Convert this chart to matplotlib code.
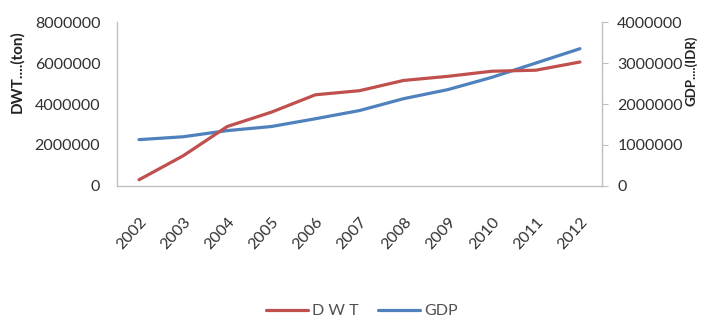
import matplotlib as mpl
mpl.use('Agg')
import matplotlib.pyplot as plt
import numpy as np

years = ['2002', '2003', '2004', '2005', '2006', '2007', '2008', '2009', '2010', '2011', '2012']
dwt = [300000, 1470000, 2900000, 3600000, 4450000, 4650000, 5150000, 5350000, 5600000, 5650000, 6050000]
gdp = [1130000, 1200000, 1350000, 1450000, 1640000, 1840000, 2130000, 2350000, 2650000, 3000000, 3350000]

plt.rcParams['font.family'] = ['Lato', 'DejaVu Sans']
txtc = '#303030'
axc = '#bfbfbf'

fig = plt.figure(figsize=(7.03, 3.2), dpi=100)
ax1 = fig.add_axes([0.1664, 0.419, 0.6899, 0.512])
ax2 = ax1.twinx()

x = np.arange(len(years))
l1, = ax1.plot(x, dwt, color='#C0504D', lw=2.3, solid_capstyle='round', label='D W T')
l2, = ax2.plot(x, gdp, color='#4F81BD', lw=2.3, solid_capstyle='round', label='GDP')
ax1.set_zorder(ax2.get_zorder() + 1)
ax1.patch.set_visible(False)

ax1.set_xlim(-0.5, len(years) - 0.5)
ax1.set_ylim(0, 8000000)
ax2.set_ylim(0, 4000000)
ax1.set_yticks(np.arange(0, 8000001, 2000000))
ax2.set_yticks(np.arange(0, 4000001, 1000000))
ax1.set_yticklabels([str(v) for v in np.arange(0, 8000001, 2000000)])
ax2.set_yticklabels([str(v) for v in np.arange(0, 4000001, 1000000)])
ax1.set_xticks(x)
ax1.set_xticklabels(years, rotation=48, ha='right', rotation_mode='anchor')

for a in (ax1, ax2):
    a.spines['top'].set_visible(False)
    for s in ('left', 'right', 'bottom'):
        a.spines[s].set_color(axc)
        a.spines[s].set_linewidth(1.0)
    a.tick_params(labelsize=11.5, colors=txtc)
ax1.spines['right'].set_visible(False)
ax2.spines['left'].set_visible(False)
ax2.spines['bottom'].set_visible(False)
ax1.tick_params(axis='y', length=0, pad=12)
ax1.tick_params(axis='x', length=0, pad=21)
ax2.tick_params(axis='y', length=4, color=axc, pad=7)

for lab in ax1.get_xticklabels() + ax1.get_yticklabels() + ax2.get_yticklabels():
    lab.set_color(txtc)

# axis titles sit toward the top of each axis
ax1.set_ylabel('DWT....(ton)', fontsize=11, fontweight='bold', color='#222222')
ax2.set_ylabel('GDP....(IDR)', fontsize=9.5, fontweight='bold', color='#222222')
ax1.yaxis.set_label_coords(-0.192, 0.70)
ax2.yaxis.set_label_coords(1.170, 0.70)

leg = fig.legend(handles=[l1, l2], loc='center', bbox_to_anchor=(0.515, 0.027), ncol=2,
                 frameon=False, fontsize=11.5, handlelength=2.6, columnspacing=1.2, handletextpad=0.3)
for t in leg.get_texts():
    t.set_color('#505050')

plt.savefig('out.png', dpi=100)
